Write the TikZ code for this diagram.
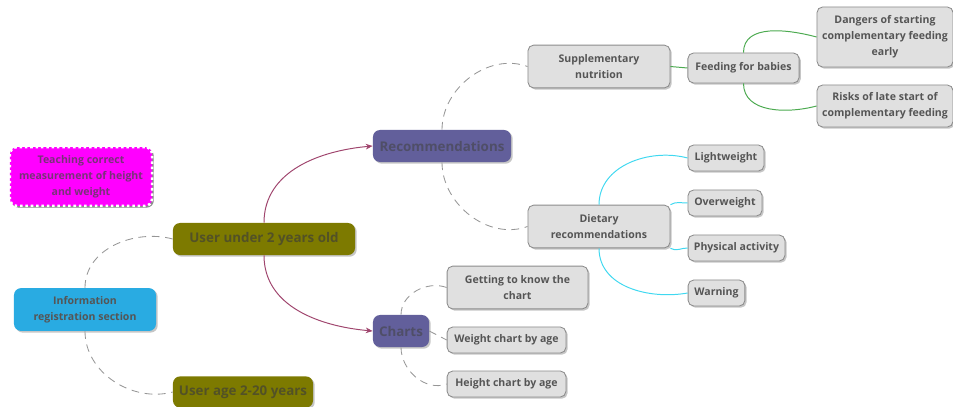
\documentclass[tikz,border=0pt]{standalone}
\usepackage{fontspec}
\setmainfont{Open Sans}
\definecolor{nodegray}{RGB}{224,224,224}
\definecolor{edgegray}{RGB}{140,140,140}
\definecolor{textgray}{RGB}{85,85,85}
\definecolor{olivebox}{RGB}{125,122,0}
\definecolor{slatebox}{RGB}{98,95,155}
\definecolor{skybox}{RGB}{41,171,226}
\definecolor{pinkbox}{RGB}{255,0,255}
\definecolor{pinktext}{RGB}{120,50,120}
\definecolor{plumline}{RGB}{160,70,110}
\definecolor{greenline}{RGB}{76,170,80}
\definecolor{cyanline}{RGB}{64,216,240}
\definecolor{dashgray}{RGB}{150,150,150}
\usetikzlibrary{arrows.meta, shadows}

\begin{document}
\begin{tikzpicture}[x=0.025cm, y=-0.025cm,
    leafbox/.style={fill=nodegray, draw=edgegray, line width=0.6pt, rounded corners=4pt,
      text=textgray, font=\fontsize{7.5}{11.3}\selectfont\bfseries, align=center, inner sep=2pt,
      drop shadow={shadow xshift=1.2pt, shadow yshift=-1.2pt, opacity=0.45}},
    mainbox/.style={rounded corners=5pt, draw=none, font=\fontsize{9.5}{11}\selectfont\bfseries,
      align=center, inner sep=2pt,
      drop shadow={shadow xshift=1.2pt, shadow yshift=-1.2pt, opacity=0.45}},
    dashlink/.style={draw=dashgray, dash pattern=on 5.5pt off 4pt, line width=0.6pt},
    plumlink/.style={draw=plumline, line width=0.7pt, -{Stealth[length=5pt, width=4pt]}},
    greenlink/.style={draw=greenline, line width=0.7pt},
    cyanlink/.style={draw=cyanline, line width=0.7pt},
  ]
    \useasboundingbox (0,0) rectangle (953,407);

    % left side
    \node[mainbox, fill=pinkbox, draw=white, dotted, line width=1.8pt, text=pinktext,
      font=\fontsize{7.5}{11.3}\selectfont\bfseries, minimum width=3.55cm, minimum height=1.47cm,
      drop shadow={shadow xshift=1.2pt, shadow yshift=-1.2pt, opacity=0.8}]
      (teach) at (81,176.5) {Teaching correct\\measurement of height\\and weight};
    \node[mainbox, fill=skybox, text=textgray, font=\fontsize{7.5}{11.3}\selectfont\bfseries,
      minimum width=3.55cm, minimum height=1.07cm] (info) at (85,309.5) {Information\\registration section};
    \node[mainbox, fill=olivebox, text=black!50!olivebox!70!gray, minimum width=4.55cm, minimum height=0.8cm]
      (under2) at (264,239) {User under 2 years old};
    \node[mainbox, fill=olivebox, text=black!50!olivebox!70!gray, minimum width=3.5cm, minimum height=0.78cm]
      (age220) at (243,392) {User age 2-20 years};

    % middle
    \node[mainbox, fill=slatebox, text=black!40!slatebox!70!gray, minimum width=3.45cm, minimum height=0.8cm]
      (rec) at (442,146) {Recommendations};
    \node[mainbox, fill=slatebox, text=black!40!slatebox!70!gray, minimum width=1.4cm, minimum height=0.8cm]
      (charts) at (401,331) {Charts};

    \node[leafbox, minimum width=3.55cm, minimum height=1.07cm] (supp) at (599,66.5) {Supplementary\\nutrition};
    \node[leafbox, minimum width=2.78cm, minimum height=0.75cm] (feed) at (743.5,68) {Feeding for babies};
    \node[leafbox, minimum width=3.4cm, minimum height=1.5cm] (danger) at (885,37) {Dangers of starting\\complementary feeding\\early};
    \node[leafbox, minimum width=3.4cm, minimum height=1.05cm] (risks) at (885,106) {Risks of late start of\\complementary feeding};

    \node[leafbox, minimum width=3.55cm, minimum height=1.07cm] (diet) at (599,226.5) {Dietary\\recommendations};
    \node[leafbox, minimum width=1.9cm, minimum height=0.65cm] (light) at (726,158) {Lightweight};
    \node[leafbox, minimum width=1.85cm, minimum height=0.65cm] (over) at (725,203) {Overweight};
    \node[leafbox, minimum width=2.42cm, minimum height=0.65cm] (phys) at (736.5,248) {Physical activity};
    \node[leafbox, minimum width=1.42cm, minimum height=0.65cm] (warn) at (716.5,293) {Warning};

    \node[leafbox, minimum width=3.52cm, minimum height=1.07cm] (getting) at (517.5,287.5) {Getting to know the\\chart};
    \node[leafbox, minimum width=2.97cm, minimum height=0.65cm] (weight) at (506.5,340) {Weight chart by age};
    \node[leafbox, minimum width=2.97cm, minimum height=0.65cm] (height) at (506.5,384) {Height chart by age};

    % connectors
    \draw[dashlink] (info.north) to[out=90, in=165] (under2.west);
    \draw[dashlink] (info.south) to[out=-90, in=195] (age220.west);
    \draw[plumlink] (under2.north) to[out=90, in=185] (rec.west);
    \draw[plumlink] (under2.south) to[out=-90, in=175] (charts.west);
    \draw[dashlink] (rec.north) to[out=90, in=160] (supp.west);
    \draw[dashlink] (rec.south) to[out=-90, in=200] (diet.west);
    \draw[dashlink] (charts.north) to[out=90, in=160] (getting.west);
    \draw[dashlink] (charts.east) -- (weight.west);
    \draw[dashlink] (charts.south) to[out=-90, in=200] (height.west);
    \draw[greenlink] (supp.east) -- (feed.west);
    \draw[greenlink] (feed.north) to[out=90, in=165] (danger.west);
    \draw[greenlink] (feed.south) to[out=-90, in=195] (risks.west);
    \draw[cyanlink] (diet.north) to[out=90, in=165] (light.west);
    \draw[cyanlink] (diet.north east) to[out=30, in=180] (over.west);
    \draw[cyanlink] (diet.south east) to[out=-30, in=180] (phys.west);
    \draw[cyanlink] (diet.south) to[out=-90, in=190] (warn.west);
  \end{tikzpicture}
\end{document}
